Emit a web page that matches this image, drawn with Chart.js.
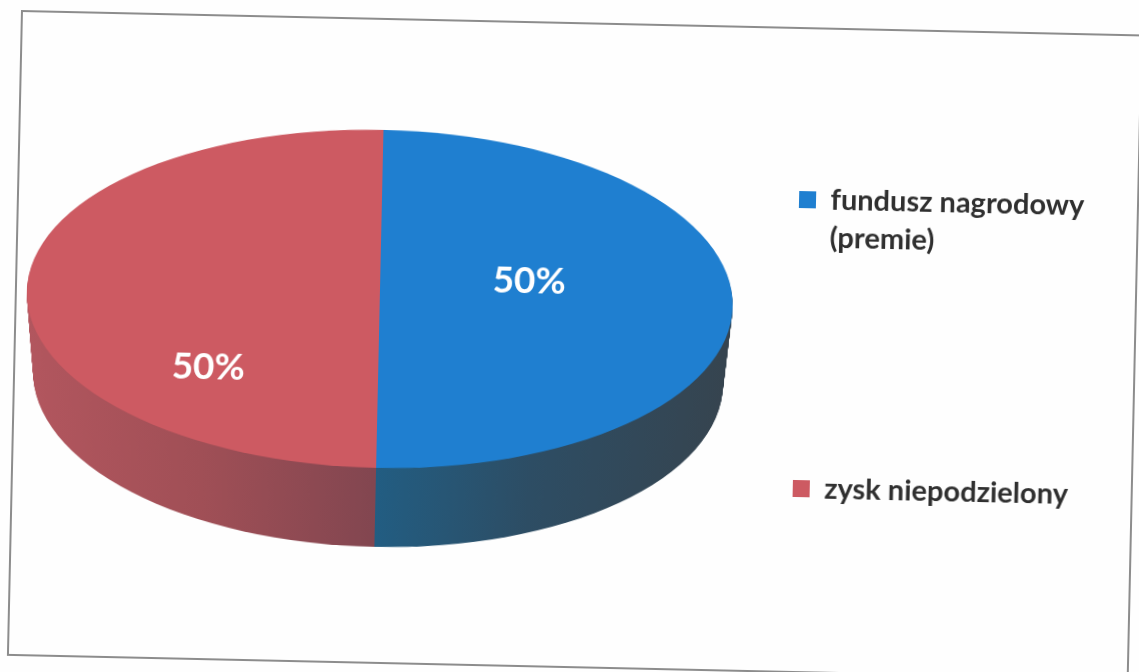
<!DOCTYPE html>
<html>
<head>
    <meta charset="utf-8">
    <title>fundusz nagrodowy / zysk niepodzielony</title>
    <script src="https://cdn.jsdelivr.net/npm/chart.js"></script>
    <style>
        html, body { margin: 0; height: 100%; overflow: hidden; background: #fefefe; }
        #pie {
            position: absolute; left: 21px; top: 10px;
            transform-origin: 0 0;
            transform: rotate(1.25deg);
            filter: blur(0.5px);
        }
    </style>
</head>
<body>
    <canvas id="pie" width="1122" height="760"></canvas>

    <script>
        var categories = [["fundusz nagrodowy", "(premie)"], "zysk niepodzielony"];
        var shares = [50, 50];
        var topColors = ["#1f7fd0", "#cd5a62"];

        // the flat pie gets squashed and thickened into the 3D look of the scan
        var pieCenterX = 365, pieCenterY = 281, radiusX = 353, radiusY = 169, depth = 79;
        var bottomTaper = 8;
        var labelShift = [[149, -21], [-170, 72]];
        var legendX = 782, legendY = 158;

        function placePie(ctx, arc, down) {
            var rx = radiusX - bottomTaper * down / depth;
            ctx.translate(pieCenterX, pieCenterY + down);
            ctx.scale(rx / arc.outerRadius, radiusY / arc.outerRadius);
            ctx.translate(-arc.x, -arc.y);
        }

        function sideFill(ctx, arc, index) {
            var g = ctx.createLinearGradient(arc.x - arc.outerRadius, 0, arc.x + arc.outerRadius, 0);
            if (index === 1) {
                g.addColorStop(0, "#b2565e");
                g.addColorStop(0.25, "#a04f56");
                g.addColorStop(0.5, "#824650");
            } else {
                g.addColorStop(0.5, "#225d82");
                g.addColorStop(0.72, "#2d4d64");
                g.addColorStop(1, "#36444f");
            }
            return g;
        }

        var pie3d = {
            id: "pie3d",
            afterLayout: function(chart) {
                // legend goes where the scan has it, the two items are far apart
                var legend = chart.legend;
                legend.left = legendX - legend.options.labels.padding;
                legend.top = legendY - legend.options.labels.padding;
            },
            beforeDraw: function(chart) {
                var ctx = chart.ctx;
                ctx.save();
                ctx.strokeStyle = "#8c8c8c";
                ctx.lineWidth = 2;
                ctx.strokeRect(1, 1, 1120, 644);
                ctx.restore();
            },
            beforeDatasetsDraw: function(chart) {
                var ctx = chart.ctx;
                var arcs = chart.getDatasetMeta(0).data;
                for (var d = depth; d >= 1; d--) {
                    arcs.forEach(function(arc, i) {
                        var saved = arc.options;
                        ctx.save();
                        placePie(ctx, arc, d);
                        arc.options = Object.create(saved);
                        arc.options.backgroundColor = sideFill(ctx, arc, i);
                        arc.draw(ctx);
                        arc.options = saved;
                        ctx.restore();
                    });
                }
                ctx.save();
                placePie(ctx, arcs[0], 0);
            },
            afterDatasetsDraw: function(chart) {
                var ctx = chart.ctx;
                ctx.restore();
                var total = shares.reduce(function(a, b) { return a + b; }, 0);
                ctx.save();
                ctx.fillStyle = "#ffffff";
                ctx.font = "bold 37px Lato";
                ctx.textAlign = "center";
                ctx.textBaseline = "middle";
                shares.forEach(function(v, i) {
                    ctx.fillText(Math.round(v / total * 100) + "%", pieCenterX + labelShift[i][0], pieCenterY + labelShift[i][1]);
                });
                ctx.restore();
            }
        };

        new Chart(document.getElementById("pie"), {
            type: "pie",
            data: {
                labels: categories,
                datasets: [{
                    data: shares,
                    backgroundColor: topColors,
                    borderWidth: 0,
                    clip: false
                }]
            },
            options: {
                responsive: false,
                animation: false,
                plugins: {
                    tooltip: { enabled: false },
                    legend: {
                        position: "right",
                        align: "start",
                        maxWidth: 340,
                        labels: {
                            boxWidth: 17,
                            boxHeight: 17,
                            padding: 213,
                            color: "#2f2f2f",
                            font: { family: "Lato", size: 29, weight: "bold", lineHeight: 1.31 }
                        }
                    }
                }
            },
            plugins: [pie3d]
        });
    </script>
</body>
</html>
